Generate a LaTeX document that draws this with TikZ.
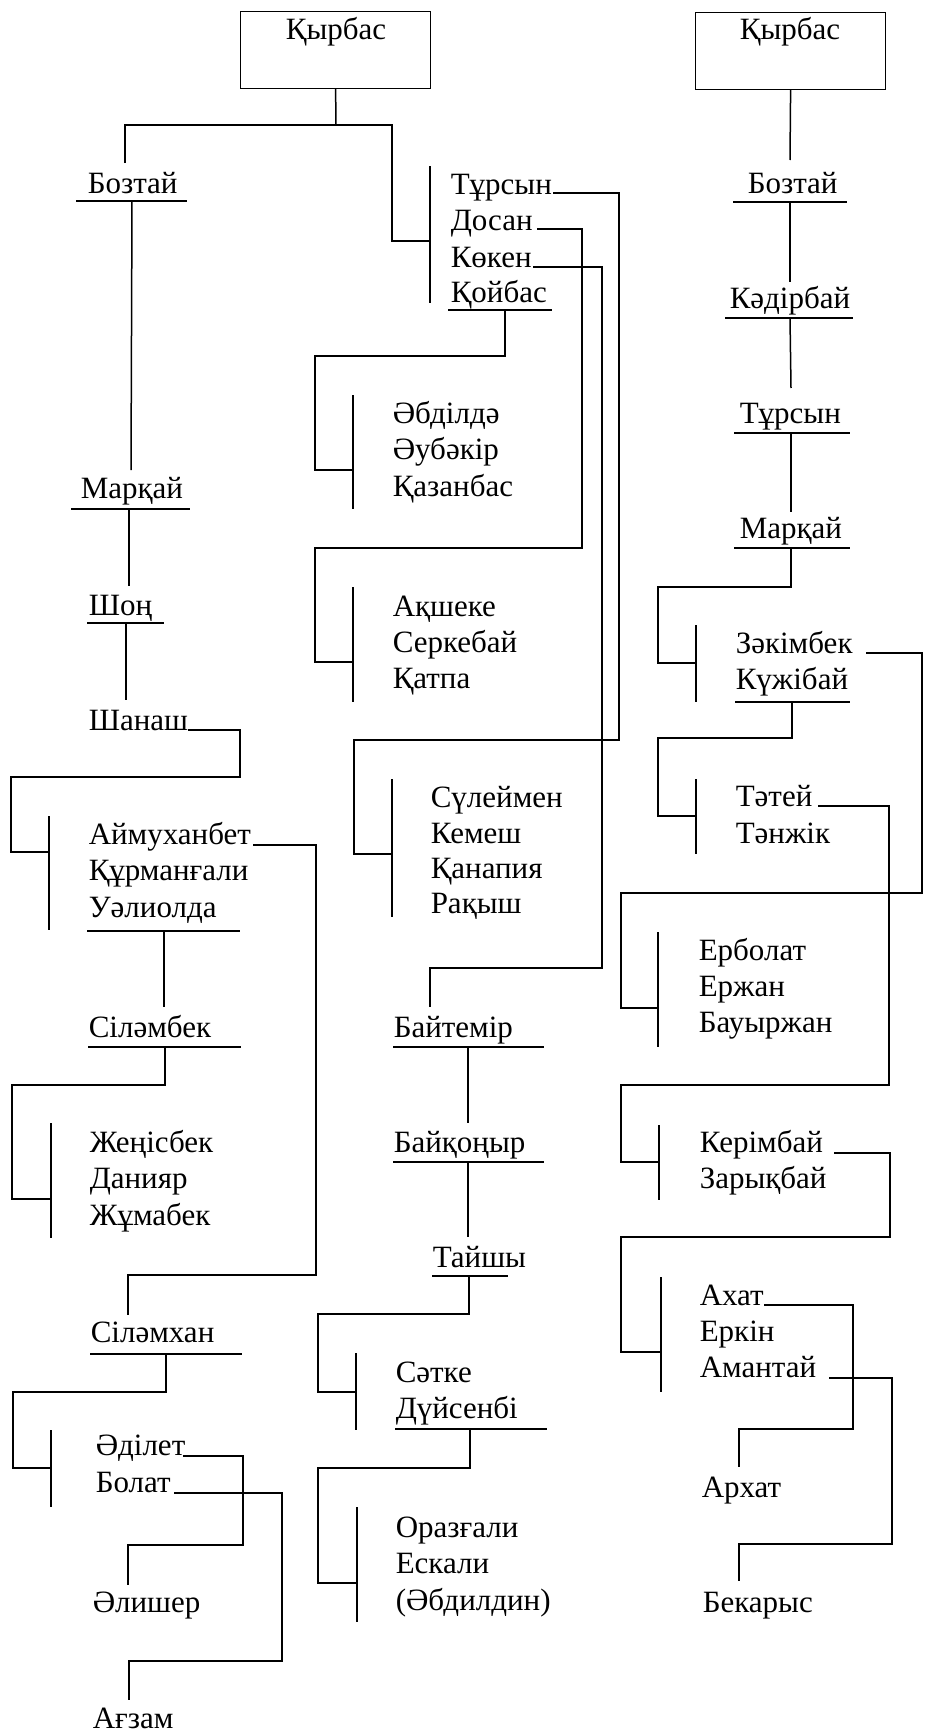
\documentclass[tikz,border=0pt]{standalone}
\usepackage{fontspec}
\setmainfont{Liberation Serif}
\begin{document}
\begin{tikzpicture}[x=1pt,y=-1pt,line width=1.5pt,line join=miter,
  nm/.style={anchor=base west,inner sep=0pt,font=\fontsize{31}{37}\selectfont},
  nmc/.style={anchor=base,inner sep=0pt,font=\fontsize{31}{37}\selectfont},
  boxst/.style={draw,line width=1.2pt,minimum width=190pt,minimum height=77pt,anchor=north west,inner sep=0pt},
  ul/.style={line width=1.5pt},
  lk/.style={line width=1.5pt}]
\useasboundingbox (0,0) rectangle (926,1734);
% ---------------- left tree ----------------
\node[boxst] (box1) at (240,11) {};
\node[nmc] (kyrbas1) at (336,40) {Қырбас};
\draw[lk] (box1.south) -- (336,125);
\draw[lk] (125,163) -- (125,125) -- (392,125) -- (392,241) -- (430,241);
\draw[lk] (430,166) -- (430,303);
\node[nm] (boztai1) at (87,193) {Бозтай};
\draw[ul] (76,201) -- (187,201);
\node[nm] (tursyn1) at (450,194) {Тұрсын};
\node[nm] (dosan) at (450,230) {Досан};
\node[nm] (koken) at (450,267) {Көкен};
\node[nm] (kojbas) at (450,302) {Қойбас};
\draw[ul] (448,310) -- (552,310);
% Тұрсын -> Сүлеймен
\draw[lk] (553,193) -- (619,193) -- (619,740) -- (354,740) -- (354,854) -- (392,854);
% Досан -> Ақшеке
\draw[lk] (537,229) -- (582,229) -- (582,548) -- (315,548) -- (315,662) -- (353,662);
% Көкен -> Байтемір
\draw[lk] (533,267) -- (602,267) -- (602,968) -- (430,968) -- (430,1007);
% Қойбас -> Әбділдә
\draw[lk] (505,310) -- (505,356) -- (315,356) -- (315,470) -- (353,470);
\draw[lk] (353,395) -- (353,509);
\node[nm] (abdilda) at (392,423) {Әбділдә};
\node[nm] (aubakir) at (392,459) {Әубәкір};
\node[nm] (kazanbas) at (392,496) {Қазанбас};
\draw[lk] (353,587) -- (353,702);
\node[nm] (aksheke) at (392,616) {Ақшеке};
\node[nm] (serkebai) at (392,652) {Серкебай};
\node[nm] (katpa) at (392,688) {Қатпа};
\draw[lk] (392,779) -- (392,917);
\node[nm] (suleimen) at (430,807) {Сүлеймен};
\node[nm] (kemesh) at (430,843) {Кемеш};
\node[nm] (kanapia) at (430,878) {Қанапия};
\node[nm] (rakysh) at (430,913) {Рақыш};
% Бозтай line
\draw[lk] (132,201) -- (131,470);
\node[nm] (markai1) at (80,498) {Марқай};
\draw[ul] (71,509) -- (190,509);
\draw[lk] (129,509) -- (129,586);
\node[nm] (shon) at (88,615) {Шоң};
\draw[ul] (87,623) -- (164,623);
\draw[lk] (126,623) -- (126,700);
\node[nm] (shanash) at (88,730) {Шанаш};
\draw[lk] (188,730) -- (240,730) -- (240,777) -- (11,777) -- (11,852) -- (49,852);
\draw[lk] (49,816) -- (49,930);
\node[nm] (aimukhanbet) at (88,844) {Аймуханбет};
\node[nm] (kurmangali) at (88,880) {Құрманғали};
\node[nm] (ualiolda) at (88,917) {Уәлиолда};
\draw[ul] (87,931) -- (240,931);
\draw[lk] (253,845) -- (316,845) -- (316,1275) -- (128,1275) -- (128,1315);
\draw[lk] (164,931) -- (164,1007);
\node[nm] (silambek) at (88,1037) {Сіләмбек};
\draw[ul] (88,1047) -- (241,1047);
\draw[lk] (165,1047) -- (165,1085) -- (12,1085) -- (12,1199) -- (50,1199);
\draw[lk] (51,1123) -- (51,1238);
\node[nm] (zhenisbek) at (89,1152) {Жеңісбек};
\node[nm] (daniiar) at (89,1188) {Данияр};
\node[nm] (zhumabek) at (89,1225) {Жұмабек};
\node[nm] (silamkhan) at (90,1342) {Сіләмхан};
\draw[ul] (90,1354) -- (242,1354);
\draw[lk] (166,1354) -- (166,1392) -- (13,1392) -- (13,1468) -- (52,1468);
\draw[lk] (51,1430) -- (51,1507);
\node[nm] (adilet) at (95,1455) {Әділет};
\node[nm] (bolat) at (95,1492) {Болат};
\draw[lk] (183,1456) -- (243,1456) -- (243,1545) -- (128,1545) -- (128,1585);
\node[nm] (alisher) at (92,1612) {Әлишер};
\draw[lk] (174,1493) -- (282,1493) -- (282,1661) -- (129,1661) -- (129,1700);
\node[nm] (agzam) at (92,1728) {Ағзам};
% middle lower
\node[nm] (baitemir) at (393,1037) {Байтемір};
\draw[ul] (393,1047) -- (544,1047);
\draw[lk] (468,1047) -- (468,1123);
\node[nm] (baikonyr) at (393,1152) {Байқоңыр};
\draw[ul] (393,1162) -- (544,1162);
\draw[lk] (468,1162) -- (468,1237);
\node[nm] (taishy) at (432,1267) {Тайшы};
\draw[ul] (432,1276) -- (508,1276);
\draw[lk] (469,1276) -- (469,1314) -- (318,1314) -- (318,1392) -- (356,1392);
\draw[lk] (356,1353) -- (356,1430);
\node[nm] (satke) at (395,1382) {Сәтке};
\node[nm] (duisenbi) at (395,1418) {Дүйсенбі};
\draw[ul] (395,1429) -- (547,1429);
\draw[lk] (470,1429) -- (470,1468) -- (318,1468) -- (318,1583) -- (357,1583);
\draw[lk] (357,1507) -- (357,1622);
\node[nm] (orazgali) at (395,1537) {Оразғали};
\node[nm] (eskali) at (395,1573) {Ескали};
\node[nm] (abdildin) at (395,1610) {(Әбдилдин)};
% ---------------- right tree ----------------
\node[boxst] (box2) at (695,12) {};
\node[nmc] (kyrbas2) at (790,40) {Қырбас};
\draw[lk] (box2.south) -- (790,160);
\node[nm] (boztai2) at (747,193) {Бозтай};
\draw[ul] (733,202) -- (847,202);
\draw[lk] (790,202) -- (790,282);
\node[nm] (kadirbai) at (729,308) {Кәдірбай};
\draw[ul] (725,318) -- (853,318);
\draw[lk] (790,318) -- (791,388);
\node[nm] (tursyn2) at (739,423) {Тұрсын};
\draw[ul] (734,433) -- (850,433);
\draw[lk] (791,433) -- (791,512);
\node[nm] (markai2) at (739,538) {Марқай};
\draw[ul] (734,548) -- (850,548);
\draw[lk] (791,548) -- (791,587) -- (658,587) -- (658,663) -- (696,663);
\draw[lk] (696,625) -- (696,702);
\node[nm] (zakimbek) at (735,653) {Зәкімбек};
\node[nm] (kuzhibai) at (735,689) {Күжібай};
\draw[ul] (735,702) -- (850,702);
\draw[lk] (792,702) -- (792,738) -- (658,738) -- (658,816) -- (696,816);
\draw[lk] (696,779) -- (696,854);
\node[nm] (tatei) at (735,806) {Тәтей};
\node[nm] (tanzhik) at (735,843) {Тәнжік};
\draw[lk] (866,653) -- (922,653) -- (922,893) -- (621,893) -- (621,1008) -- (658,1008);
\draw[lk] (658,932) -- (658,1047);
\node[nm] (erbolat) at (698,960) {Ерболат};
\node[nm] (erzhan) at (698,996) {Ержан};
\node[nm] (bauyrzhan) at (698,1032) {Бауыржан};
\draw[lk] (818,806) -- (889,806) -- (889,1085) -- (621,1085) -- (621,1162) -- (659,1162);
\draw[lk] (659,1125) -- (659,1200);
\node[nm] (kerimbai) at (699,1152) {Керімбай};
\node[nm] (zarykbai) at (699,1188) {Зарықбай};
\draw[lk] (834,1153) -- (890,1153) -- (890,1237) -- (621,1237) -- (621,1352) -- (660,1352);
\draw[lk] (661,1277) -- (661,1392);
\node[nm] (akhat) at (699,1305) {Ахат};
\node[nm] (erkin) at (699,1341) {Еркін};
\node[nm] (amantai) at (699,1377) {Амантай};
\draw[lk] (764,1305) -- (853,1305) -- (853,1429) -- (739,1429) -- (739,1467);
\node[nm] (arkhat) at (701,1497) {Архат};
\draw[lk] (829,1378) -- (892,1378) -- (892,1544) -- (739,1544) -- (739,1581);
\node[nm] (bekarys) at (702,1612) {Бекарыс};
\end{tikzpicture}
\end{document}
